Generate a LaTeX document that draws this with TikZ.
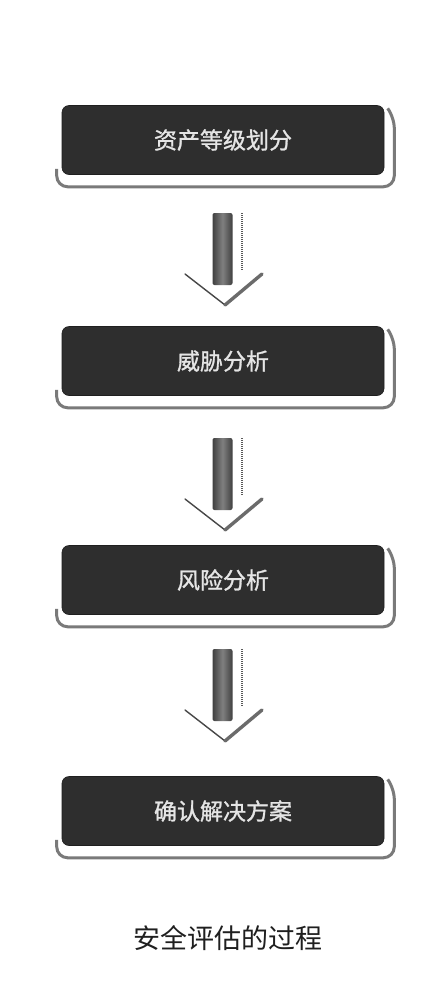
\documentclass[tikz,border=0pt]{standalone}
\usepackage{fontspec}
\newfontfamily\cjk{Noto Sans CJK SC}
\newfontfamily\cjkbox[FakeBold=1.2]{Noto Sans CJK SC}
\usetikzlibrary{calc,backgrounds}
\tikzset{
  stepbox/.style={draw=black!88, line width=0.6pt, fill=black!82, rounded corners=7pt,
    minimum width=322pt, minimum height=69pt, inner sep=0pt,
    text=white!90!black, font=\cjkbox\fontsize{23pt}{23pt}\selectfont},
  plateedge/.style={draw=black!52, line width=3pt, rounded corners=11pt},
  shaftfill/.style={left color=black!75, right color=black!75, middle color=black!50},
  dotline/.style={draw=black!65, line width=1.5pt, dash pattern=on 1.2pt off 0.8pt},
  chevthin/.style={draw=black!72, line width=1.4pt, line cap=round},
  chevthick/.style={draw=black!58, line width=3.4pt, line cap=round},
  caption/.style={font=\cjk\fontsize{27pt}{27pt}\selectfont, text=black!88}
}
\newcommand{\platebehind}[1]{%
  \draw[plateedge] ($(#1.south west)+(-5pt,6pt)$) |- ($(#1.south east)+(10pt,-12pt)$) -- ($(#1.north east)+(10pt,-12pt)$) -- ($(#1.north east)+(4pt,-4pt)$);
}
\newcommand{\flowarrow}[2]{% #1 name, #2 y of shaft top (pt, positive downward)
  \coordinate (#1) at (222.5pt,-#2pt);
  \shade[shaftfill, rounded corners=2pt] ($(#1)+(-10pt,0pt)$) rectangle ($(#1)+(10pt,-72pt)$);
  \draw[dotline] ($(#1)+(19.5pt,0pt)$) -- ($(#1)+(19.5pt,-57pt)$);
  \draw[chevthin] ($(#1)+(-37.5pt,-61pt)$) -- ($(#1)+(2.5pt,-92pt)$);
  \draw[chevthick] ($(#1)+(2.5pt,-92pt)$) -- ($(#1)+(39.5pt,-61pt)$);
}
\begin{document}
\begin{tikzpicture}
\useasboundingbox (0pt,0pt) rectangle (447pt,-1002pt);
% boxes
\node[stepbox] (b1) at (223pt,-140pt) {资产等级划分};
\node[stepbox] (b2) at (223pt,-361pt) {威胁分析};
\node[stepbox] (b3) at (223pt,-580pt) {风险分析};
\node[stepbox] (b4) at (223pt,-811pt) {确认解决方案};
% white page and raised plates behind the boxes
\begin{scope}[on background layer]
  \fill[white] (0pt,0pt) rectangle (447pt,-1002pt);
  \platebehind{b1}
  \platebehind{b2}
  \platebehind{b3}
  \platebehind{b4}
\end{scope}
% arrows
\flowarrow{a1}{213}
\flowarrow{a2}{438}
\flowarrow{a3}{649}
% caption
\node[caption] (cap) at (228pt,-938pt) {安全评估的过程};
\end{tikzpicture}
\end{document}
